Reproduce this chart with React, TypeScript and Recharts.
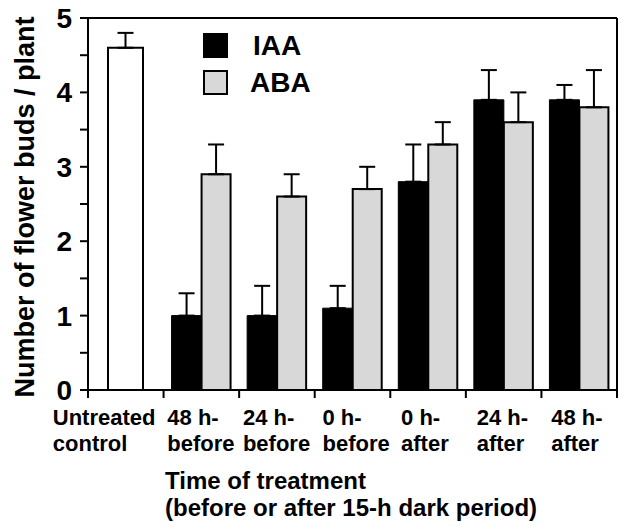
import React from 'react';
import { BarChart, Bar, XAxis, YAxis, ErrorBar, ReferenceLine } from 'recharts';

const FONT = '"Liberation Sans", Arial, Helvetica, sans-serif';

// data
const categories = [
  'Untreated\ncontrol',
  '48 h-\nbefore',
  '24 h-\nbefore',
  '0 h-\nbefore',
  '0 h-\nafter',
  '24 h-\nafter',
  '48 h-\nafter',
];
const controlValues = [4.6, null, null, null, null, null, null];
const controlErrors = [0.2, null, null, null, null, null, null];
const iaaValues = [null, 1.0, 1.0, 1.1, 2.8, 3.9, 3.9];
const iaaErrors = [null, 0.3, 0.4, 0.3, 0.5, 0.4, 0.2];
const abaValues = [null, 2.9, 2.6, 2.7, 3.3, 3.6, 3.8];
const abaErrors = [null, 0.4, 0.3, 0.3, 0.3, 0.4, 0.5];
const yTicks = [0, 0.5, 1, 1.5, 2, 2.5, 3, 3.5, 4, 4.5, 5];

const upOnly = (e: number | null) => (e == null ? null : [0, e]);

const data = categories.map((name, i) => ({
  name,
  control: controlValues[i],
  controlErr: upOnly(controlErrors[i]),
  iaa: iaaValues[i],
  iaaErr: upOnly(iaaErrors[i]),
  aba: abaValues[i],
  abaErr: upOnly(abaErrors[i]),
}));

// left edge of each x label, relative to the category centre
const labelShift = [-73, -34, -34, -30, -27, -27, -28];

const XTick = (props: any) => {
  const { payload, index } = props;
  const x = Number(props.x);
  const y = Number(props.y);
  const band = 529 / categories.length;
  const lines = String(payload.value).split('\n');
  const left = x - band / 2;
  return (
    <g>
      <line x1={left} x2={left} y1={y} y2={y + 8} stroke="#000" strokeWidth={2} />
      {index === categories.length - 1 && (
        <line x1={x + band / 2} x2={x + band / 2} y1={y} y2={y + 8} stroke="#000" strokeWidth={2} />
      )}
      <text x={x + labelShift[index]} y={y} textAnchor="start" fontFamily={FONT} fontWeight="bold" fontSize={22} fill="#000">
        {lines.map((l, k) => (
          <tspan key={k} x={x + labelShift[index]} y={y + 35 + k * 26}>{l}</tspan>
        ))}
      </text>
    </g>
  );
};

const YTick = (props: any) => {
  const { payload } = props;
  const x = Number(props.x);
  const y = Number(props.y);
  if (!Number.isInteger(payload.value)) return <g />;
  return (
    <text x={x} y={y} dy={10} textAnchor="end" fontFamily={FONT} fontWeight="bold" fontSize={28} fill="#000">
      {payload.value}
    </text>
  );
};

const bold = { fontFamily: FONT, fontWeight: 'bold' as const, color: '#000', whiteSpace: 'nowrap' as const };

export default function App() {
  return (
    <div style={{ position: 'absolute', left: 0, top: 0, width: 623, height: 527, background: '#fff' }}>
      <BarChart
        width={623}
        height={527}
        data={data}
        margin={{ top: 18, right: 6, left: 0, bottom: 0 }}
        barGap={0}
      >
        <XAxis
          xAxisId="main"
          dataKey="name"
          height={137}
          interval={0}
          axisLine={{ stroke: '#000', strokeWidth: 2 }}
          tickLine={false}
          tickSize={0}
          tickMargin={0}
          tick={<XTick />}
        />
        <XAxis xAxisId="ctrl" dataKey="name" orientation="top" hide />
        <YAxis
          width={88}
          domain={[0, 5]}
          ticks={yTicks}
          interval={0}
          stroke="#000"
          tickSize={8}
          tickMargin={8}
          axisLine={{ stroke: '#000', strokeWidth: 2 }}
          tickLine={{ stroke: '#000', strokeWidth: 2 }}
          tick={<YTick />}
        />
        <ReferenceLine xAxisId="main" y={5} stroke="#000" strokeWidth={2} />
        <ReferenceLine xAxisId="main" x={categories[categories.length - 1]} position="end" stroke="#000" strokeWidth={2} />
        <Bar xAxisId="ctrl" dataKey="control" barSize={35} fill="#fff" stroke="#000" strokeWidth={2} isAnimationActive={false}>
          <ErrorBar dataKey="controlErr" width={8} stroke="#000" strokeWidth={2} direction="y" />
        </Bar>
        <Bar xAxisId="main" dataKey="iaa" barSize={30} fill="#000" stroke="#000" strokeWidth={1} isAnimationActive={false}>
          <ErrorBar dataKey="iaaErr" width={8} stroke="#000" strokeWidth={2} direction="y" />
        </Bar>
        <Bar xAxisId="main" dataKey="aba" barSize={29} fill="#d8d8d8" stroke="#000" strokeWidth={2} isAnimationActive={false}>
          <ErrorBar dataKey="abaErr" width={8} stroke="#000" strokeWidth={2} direction="y" />
        </Bar>
      </BarChart>

      {/* y-axis title */}
      <div
        style={{
          ...bold,
          position: 'absolute',
          left: 25,
          top: 207,
          fontSize: 27,
          lineHeight: '27px',
          transform: 'translate(-50%, -50%) rotate(-90deg)',
        }}
      >
        Number of flower buds / plant
      </div>

      {/* x-axis title */}
      <div style={{ ...bold, position: 'absolute', left: 165, top: 467, fontSize: 24, lineHeight: '27px' }}>
        <div>Time of treatment</div>
        <div>(before or after 15-h dark period)</div>
      </div>

      {/* legend */}
      <div style={{ ...bold, position: 'absolute', left: 203, top: 27, fontSize: 28 }}>
        <div style={{ display: 'flex', alignItems: 'center', height: 37 }}>
          <div style={{ width: 25, height: 25, background: '#000' }} />
          <span style={{ marginLeft: 25 }}>IAA</span>
        </div>
        <div style={{ display: 'flex', alignItems: 'center', height: 37 }}>
          <div style={{ width: 21, height: 21, border: '2px solid #000', background: '#d8d8d8' }} />
          <span style={{ marginLeft: 22 }}>ABA</span>
        </div>
      </div>
    </div>
  );
}
